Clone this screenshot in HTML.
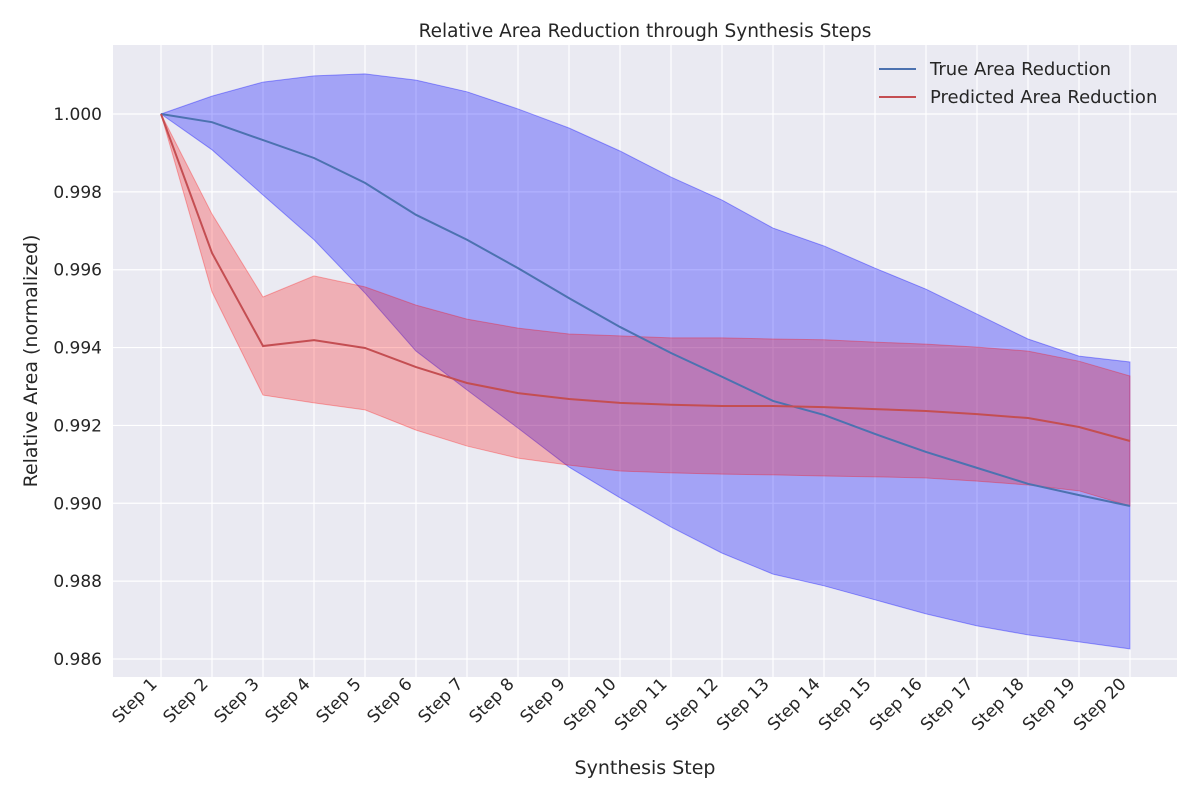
<!DOCTYPE html>
<html><head><meta charset="utf-8"><style>
body{margin:0;background:#fff;font-family:"Liberation Sans","DejaVu Sans",sans-serif;}
svg text{font-family:"DejaVu Sans","Liberation Sans",sans-serif;fill:#262626;}
</style></head><body>
<svg id="chart" width="1200" height="800">
<rect x="113" y="45" width="1064" height="632" fill="#eaeaf2"/>
<g id="grid"></g><g id="bands"></g><g id="lines"></g><g id="axes"></g>
<text x="645" y="37" text-anchor="middle" font-size="18.5">Relative Area Reduction through Synthesis Steps</text>
<text x="645" y="774" text-anchor="middle" font-size="19">Synthesis Step</text>
<text transform="translate(37,361) rotate(-90)" text-anchor="middle" font-size="19">Relative Area (normalized)</text>
<g>
<line x1="879" y1="69" x2="916" y2="69" stroke="#4c72b0" stroke-width="2"/>
<text x="930" y="75" font-size="18">True Area Reduction</text>
<line x1="879" y1="97" x2="916" y2="97" stroke="#c44e52" stroke-width="2"/>
<text x="930" y="103" font-size="18">Predicted Area Reduction</text>
</g>
</svg>
<script>
const categories=["Step 1","Step 2","Step 3","Step 4","Step 5","Step 6","Step 7","Step 8","Step 9","Step 10","Step 11","Step 12","Step 13","Step 14","Step 15","Step 16","Step 17","Step 18","Step 19","Step 20"];
const trueMean=[1.0,0.99979,0.99933,0.99887,0.99823,0.99741,0.99677,0.99604,0.99527,0.99453,0.99386,0.99325,0.99263,0.99227,0.99178,0.99132,0.99091,0.9905,0.99021,0.98993];
const trueUpper=[1.0,1.00046,1.00082,1.00098,1.00103,1.00087,1.00057,1.00013,0.99964,0.99905,0.99838,0.99779,0.99707,0.99661,0.99604,0.9955,0.99486,0.99422,0.99378,0.99363];
const trueLower=[1.0,0.99908,0.99792,0.99677,0.9954,0.99391,0.99291,0.99193,0.99093,0.99014,0.98939,0.98872,0.98818,0.98788,0.98752,0.98716,0.98685,0.98662,0.98644,0.98626];
const predMean=[1.0,0.99643,0.99404,0.99419,0.99399,0.9935,0.99309,0.99283,0.99268,0.99258,0.99253,0.9925,0.9925,0.99247,0.99242,0.99237,0.99229,0.99219,0.99196,0.9916];
const predUpper=[1.0,0.99743,0.9953,0.99584,0.99556,0.99509,0.99473,0.9945,0.99435,0.9943,0.99425,0.99425,0.99422,0.9942,0.99414,0.99409,0.99401,0.99391,0.99365,0.99327];
const predLower=[1.0,0.99543,0.99278,0.99258,0.9924,0.99188,0.99147,0.99116,0.99098,0.99083,0.99078,0.99075,0.99073,0.9907,0.99068,0.99065,0.99057,0.99047,0.99032,0.98993];
const yTicks=[0.986,0.988,0.990,0.992,0.994,0.996,0.998,1.000];
const NS="http://www.w3.org/2000/svg";
const X=i=>161+i*(1130-161)/19;
const Y=v=>114+(1-v)/0.002*77.857;
function mk(tag,attrs,parent){const e=document.createElementNS(NS,tag);for(const k in attrs)e.setAttribute(k,attrs[k]);document.getElementById(parent).appendChild(e);return e;}
yTicks.forEach(t=>{
 const l=mk('line',{x1:113,x2:1177,y1:Y(t),y2:Y(t),stroke:'#fff','stroke-width':1.2},'grid');
 
 
 const tx=mk('text',{x:102,y:Y(t)+6,'text-anchor':'end','font-size':17},'axes');tx.textContent=t.toFixed(3);
 
 
});
categories.forEach((c,i)=>{
 const l=mk('line',{x1:X(i),x2:X(i),y1:45,y2:677,stroke:'#fff','stroke-width':1.2},'grid');
 
 
 const tx=mk('text',{x:0,y:0,'text-anchor':'end','font-size':17,transform:`translate(${X(i)-3},${685}) rotate(-45)`},'axes');tx.textContent=c;
 
 
});
function band(up,lo,fill,stroke){
 let d='M'+up.map((v,i)=>X(i)+','+Y(v)).join('L');
 d+='L'+lo.map((v,i)=>X(i)+','+Y(v)).reverse().join('L')+'Z';
 const p=mk('path',{d,fill,stroke,'stroke-width':1},'bands');
 
 return p;
}
const b1=band(trueUpper,trueLower,'rgba(0,0,255,0.3)','rgba(0,0,255,0.35)');

const b2=band(predUpper,predLower,'rgba(255,0,0,0.25)','rgba(255,0,0,0.3)');

function line(vals,color){
 return mk('polyline',{points:vals.map((v,i)=>X(i)+','+Y(v)).join(' '),fill:'none',stroke:color,'stroke-width':2},'lines');
}
const l1=line(trueMean,'#4c72b0');


const l2=line(predMean,'#c44e52');


</script>
</body></html>
